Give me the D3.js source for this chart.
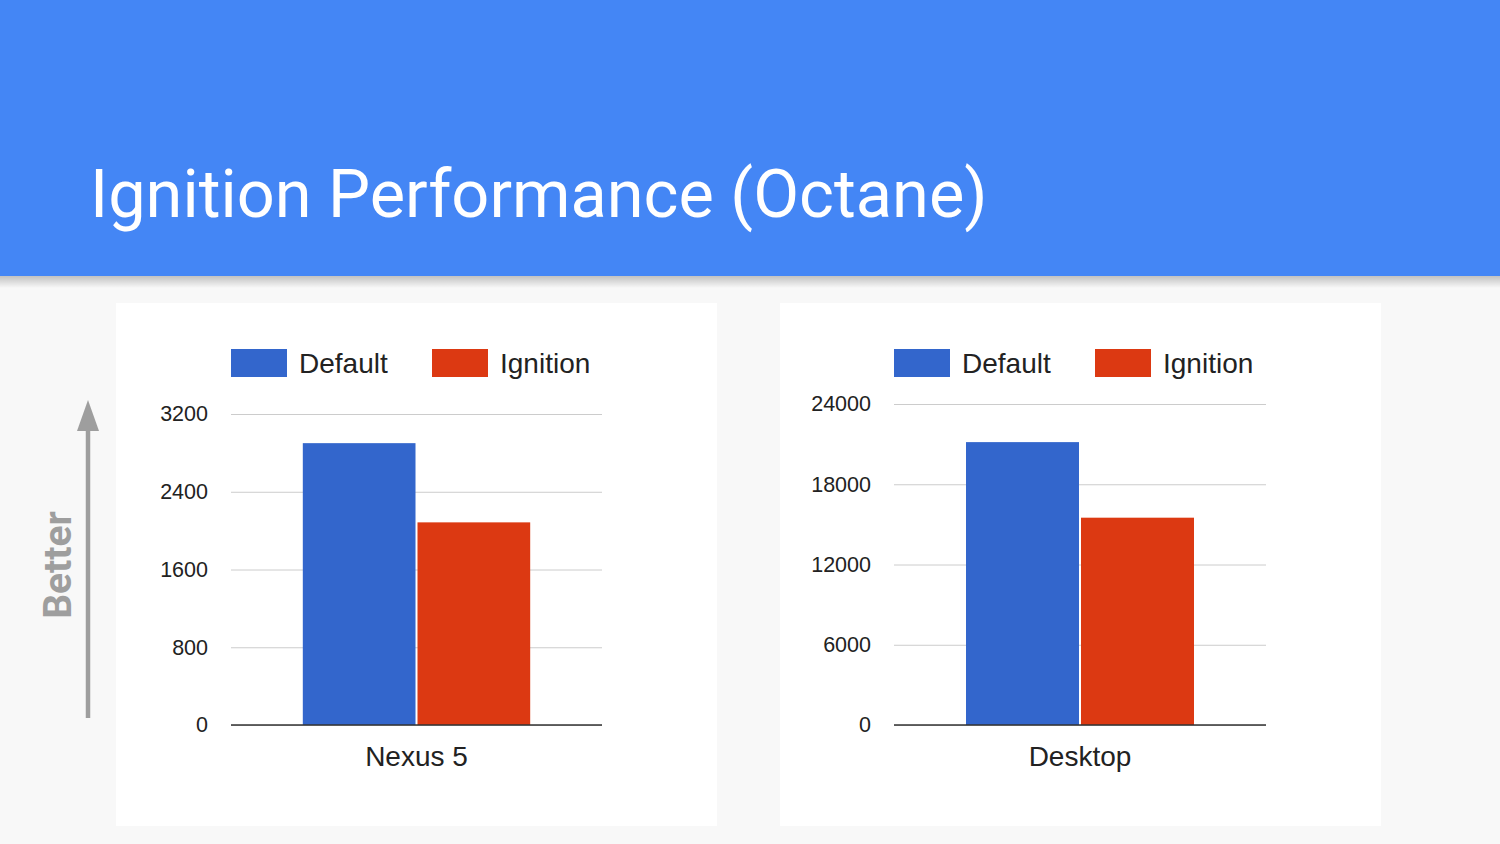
<!DOCTYPE html>
<html>
<head>
<meta charset="utf-8">
<script src="https://cdn.jsdelivr.net/npm/d3@7"></script>
<style>
  html, body { margin: 0; padding: 0; background: #f8f8f8; }
  svg { display: block; }
</style>
</head>
<body>
<svg id="chart" width="1500" height="844"></svg>
<script>
// ---- data ----
const titleText = "Ignition Performance (Octane)";
const axisNote = "Better";
const seriesNames = ["Default", "Ignition"];
const seriesColors = ["#3366cc", "#dc3912"];
const leftCategories = ["Nexus 5"];
const leftDefault = [2900];
const leftIgnition = [2085];
const leftTicks = [0, 800, 1600, 2400, 3200];
const rightCategories = ["Desktop"];
const rightDefault = [21150];
const rightIgnition = [15500];
const rightTicks = [0, 6000, 12000, 18000, 24000];

const svg = d3.select("#chart");

// background
svg.append("rect").attr("width", 1500).attr("height", 844).attr("fill", "#f8f8f8");

// header shadow
const defs = svg.append("defs");
const sg = defs.append("linearGradient").attr("id", "shadow").attr("x1", 0).attr("y1", 0).attr("x2", 0).attr("y2", 1);
sg.append("stop").attr("offset", "0%").attr("stop-color", "#000").attr("stop-opacity", 0.22);
sg.append("stop").attr("offset", "100%").attr("stop-color", "#000").attr("stop-opacity", 0);
svg.append("rect").attr("x", 0).attr("y", 276).attr("width", 1500).attr("height", 12).attr("fill", "url(#shadow)");

// header
svg.append("rect").attr("x", 0).attr("y", 0).attr("width", 1500).attr("height", 276).attr("fill", "#4486f5");
svg.append("text")
  .attr("x", 90).attr("y", 217)
  .attr("fill", "#ffffff")
  .style("font-family", "Roboto, sans-serif")
  .style("font-size", "66.7px")
  .text(titleText);

// "Better" arrow
const arrowG = svg.append("g");
arrowG.append("line")
  .attr("x1", 88).attr("x2", 88).attr("y1", 718).attr("y2", 428)
  .attr("stroke", "#9e9e9e").attr("stroke-width", 4.5);
arrowG.append("path")
  .attr("d", d3.line()([[77, 431], [88, 400], [99, 431]]) + "Z")
  .attr("fill", "#9e9e9e");
arrowG.append("text")
  .attr("transform", "translate(71,565) rotate(-90)")
  .attr("text-anchor", "middle")
  .attr("fill", "#9e9e9e")
  .style("font-family", "Roboto, sans-serif")
  .style("font-weight", "bold")
  .style("font-size", "39px")
  .text(axisNote);

function drawChart(cfg) {
  const g = svg.append("g");
  // panel
  g.append("rect")
    .attr("x", cfg.panel[0]).attr("y", 303)
    .attr("width", cfg.panel[1] - cfg.panel[0]).attr("height", 523)
    .attr("fill", "#ffffff");

  const x = d3.scaleBand().domain(cfg.categories).range(cfg.xRange).paddingInner(0.24).paddingOuter(0.24);
  const xs = d3.scaleBand().domain(seriesNames).range([0, x.bandwidth()]);
  const y = d3.scaleLinear().domain([0, cfg.ticks[cfg.ticks.length - 1]]).range(cfg.yRange);
  const color = d3.scaleOrdinal().domain(seriesNames).range(seriesColors);

  // grid + tick labels
  const axis = d3.axisLeft(y).tickValues(cfg.ticks).tickFormat(d3.format("d"))
    .tickSize(-(cfg.xRange[1] - cfg.xRange[0])).tickPadding(23);
  const ag = g.append("g").attr("transform", `translate(${cfg.xRange[0]},0)`).call(axis);
  ag.select(".domain").remove();
  ag.selectAll(".tick line").attr("stroke", "#cccccc").attr("stroke-width", 1);
  ag.selectAll(".tick text")
    .attr("fill", "#222")
    .style("font-family", "'Liberation Sans', Arial, sans-serif")
    .style("font-size", "21.5px");

  // bars
  const rows = cfg.categories.map((c, i) => ({ cat: c, vals: [cfg.s1[i], cfg.s2[i]] }));
  const grp = g.selectAll(".grp").data(rows).join("g")
    .attr("transform", d => `translate(${x(d.cat)},0)`);
  grp.selectAll("rect").data(d => d.vals.map((v, k) => ({ key: seriesNames[k], v })))
    .join("rect")
    .attr("x", d => xs(d.key) + (d.key === seriesNames[1] ? 1 : 0))
    .attr("width", d => xs.bandwidth() - 1)
    .attr("y", d => y(d.v))
    .attr("height", d => y(0) - y(d.v))
    .attr("fill", d => color(d.key));

  // baseline
  g.append("line")
    .attr("x1", cfg.xRange[0]).attr("x2", cfg.xRange[1])
    .attr("y1", y(0)).attr("y2", y(0))
    .attr("stroke", "#333").attr("stroke-width", 1.5);

  // category labels
  g.selectAll(".cat").data(cfg.categories).join("text")
    .attr("x", d => x(d) + x.bandwidth() / 2)
    .attr("y", 766)
    .attr("text-anchor", "middle")
    .attr("fill", "#222")
    .style("font-family", "'Liberation Sans', Arial, sans-serif")
    .style("font-size", "28px")
    .text(d => d);

  // legend
  const lg = g.selectAll(".leg").data(seriesNames).join("g")
    .attr("transform", (d, i) => `translate(${cfg.xRange[0] + i * 201},349)`);
  lg.append("rect").attr("width", 56).attr("height", 28).attr("fill", d => color(d));
  lg.append("text")
    .attr("x", 68).attr("y", 24)
    .attr("fill", "#222")
    .style("font-family", "'Liberation Sans', Arial, sans-serif")
    .style("font-size", "28px")
    .text(d => d);
}

drawChart({
  panel: [116, 717],
  categories: leftCategories, s1: leftDefault, s2: leftIgnition, ticks: leftTicks,
  xRange: [231, 602], yRange: [725, 414]
});
drawChart({
  panel: [780, 1381],
  categories: rightCategories, s1: rightDefault, s2: rightIgnition, ticks: rightTicks,
  xRange: [894, 1266], yRange: [725, 404]
});
</script>
</body>
</html>
